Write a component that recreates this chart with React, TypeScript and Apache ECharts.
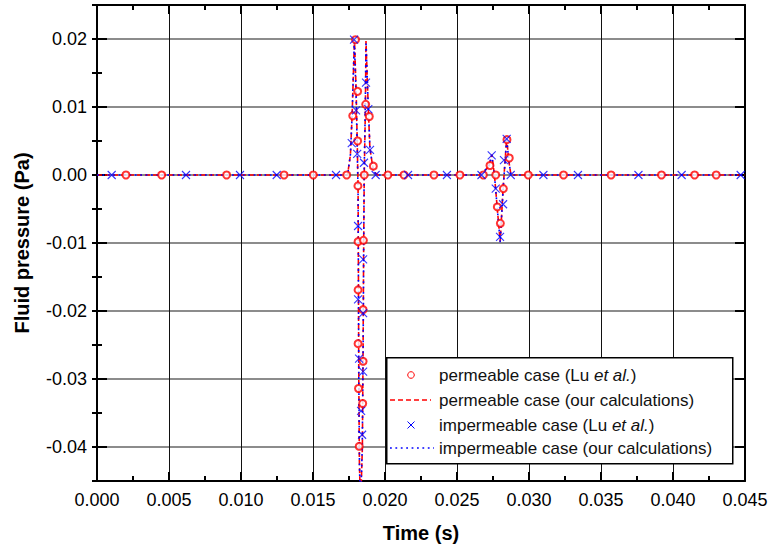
import React, { useEffect, useRef } from 'react';
import * as echarts from 'echarts';

// [time (s), fluid pressure (Pa)]
const permeableLu: number[][] = [
  [0.00201, 0], [0.00449, 0], [0.009, 0], [0.01299, 0], [0.01502, 0], [0.01734, 0],
  [0.01776, 0.0087], [0.01795, 0.0199], [0.0181, 0.0123], [0.0181, 0.005], [0.01812, -0.0016],
  [0.01813, -0.0098], [0.01813, -0.0169], [0.01813, -0.0248], [0.01816, -0.0314], [0.01821, -0.0399],
  [0.01845, -0.0336], [0.01848, -0.0274], [0.01848, -0.0198], [0.0185, -0.0096], [0.01856, 0],
  [0.01866, 0.0104], [0.01891, 0.0086], [0.01919, 0.0013],
  [0.0202, 0], [0.02132, 0], [0.0234, 0], [0.0252, 0], [0.02683, 0],
  [0.02729, 0.0014], [0.02769, 0], [0.0278, -0.0047], [0.02801, -0.0071], [0.02822, -0.002],
  [0.02847, 0.0052], [0.02863, 0.0025],
  [0.02995, 0], [0.0324, 0], [0.0357, 0], [0.0392, 0], [0.0415, 0], [0.043, 0],
];

const impermeableLu: number[][] = [
  [0.00102, 0], [0.00618, 0], [0.00993, 0], [0.01248, 0], [0.0166, 0],
  [0.01769, 0.0047], [0.01785, 0.0199], [0.01799, 0.0095], [0.01807, 0.0031], [0.01813, -0.0075],
  [0.01813, -0.0183], [0.0182, -0.027], [0.01834, -0.0347], [0.01841, -0.0382], [0.01848, -0.0289],
  [0.01848, -0.0203], [0.01848, -0.0124], [0.01854, 0.0018], [0.01868, 0.0136], [0.01884, 0.0097],
  [0.01896, 0.0037], [0.01935, 0],
  [0.0216, 0], [0.0243, 0], [0.0267, 0],
  [0.02741, 0.0029], [0.02769, -0.002], [0.02799, -0.0091], [0.0282, -0.0043], [0.02826, 0.0022],
  [0.02845, 0.0053], [0.02873, 0],
  [0.031, 0], [0.0334, 0], [0.0376, 0], [0.0406, 0], [0.0447, 0],
];

const permeableCalc: number[][] = [
  [0, 0], [0.0174, 0], [0.0176, 0.003], [0.01772, 0.009], [0.01788, 0.02], [0.018, 0.012],
  [0.01808, 0.004], [0.01813, -0.002], [0.01815, -0.012], [0.01818, -0.03], [0.01822, -0.042],
  [0.0183, -0.049], [0.01843, -0.04], [0.01848, -0.025], [0.01852, -0.01], [0.01856, 0],
  [0.01864, 0.01], [0.01868, 0.0197], [0.01882, 0.011], [0.01895, 0.004], [0.0192, 0.0005],
  [0.0195, 0], [0.0266, 0], [0.0272, 0.0012], [0.02742, 0.003], [0.0276, 0], [0.0278, -0.005],
  [0.028, -0.0098], [0.0282, -0.002], [0.02845, 0.0054], [0.0286, 0.002], [0.02875, 0], [0.045, 0],
];

const impermeableCalc: number[][] = [
  [0, 0], [0.0174, 0], [0.0176, 0.003], [0.01772, 0.009], [0.01787, 0.0199], [0.018, 0.011],
  [0.01808, 0.003], [0.01813, -0.003], [0.01815, -0.013], [0.01818, -0.03], [0.01823, -0.043],
  [0.0183, -0.049], [0.01842, -0.04], [0.01848, -0.026], [0.01852, -0.011], [0.01855, 0],
  [0.01863, 0.01], [0.01868, 0.0196], [0.01882, 0.011], [0.01896, 0.0038], [0.0192, 0.0005],
  [0.0195, 0], [0.0266, 0], [0.0272, 0.0012], [0.02741, 0.0029], [0.0276, 0], [0.0278, -0.005],
  [0.028, -0.0099], [0.0282, -0.0022], [0.02845, 0.0054], [0.0286, 0.002], [0.02875, 0], [0.045, 0],
];

const xMin = 0;
const xMax = 0.045;
const xStep = 0.005;
const yMin = -0.045;
const yMax = 0.025;
const yMinorStep = 0.005;

const legendLabels = [
  'permeable case (Lu {i|et al.})',
  'permeable case (our calculations)',
  'impermeable case (Lu {i|et al.})',
  'impermeable case (our calculations)',
];

const FONT = '"Liberation Sans", Arial, Helvetica, sans-serif';
const RED = '#ff0000';
const BLUE = '#0000ff';
const CROSS = 'path://M0,0L10,10M10,0L0,10';

export default function App() {
  const ref = useRef<HTMLDivElement>(null);
  useEffect(() => {
    if (!ref.current) return;
    const chart = echarts.init(ref.current, null, { renderer: 'svg' });
    const axisLine = { show: true, onZero: false, lineStyle: { color: '#000', width: 2 } };
    const baseX = {
      type: 'value' as const, min: xMin, max: xMax, interval: xStep,
      axisLine, splitLine: { show: false },
      axisTick: { show: true, inside: true, length: 9, lineStyle: { color: '#000', width: 2 } },
      minorTick: { show: true, splitNumber: 2, length: 5, lineStyle: { color: '#000', width: 2 } },
    };
    const majorY = {
      type: 'value' as const, min: yMin, max: yMax,
      axisLine, splitLine: { show: false },
      axisTick: { show: true, inside: true, length: 10, lineStyle: { color: '#000', width: 2 } },
    };
    const minorY = {
      type: 'value' as const, min: yMin, max: yMax, interval: yMinorStep,
      axisLine: { show: false }, splitLine: { show: false }, axisLabel: { show: false },
      axisTick: { show: true, inside: true, length: 5, lineStyle: { color: '#000', width: 2 } },
    };
    const rowY = [375, 400, 425, 448];
    const textStyle = {
      fontFamily: FONT, fontSize: 17, fill: '#111',
      rich: { i: { fontStyle: 'italic', fontFamily: FONT, fontSize: 17, fill: '#111' } },
    };
    const graphic: any[] = [
      { type: 'rect', left: 386, top: 357, z: 100, shape: { width: 346, height: 106 },
        style: { fill: '#fff', stroke: '#000', lineWidth: 1.5 } },
      { type: 'circle', z: 101, shape: { cx: 411, cy: rowY[0], r: 3.3 },
        style: { fill: 'none', stroke: RED, lineWidth: 1 } },
      { type: 'line', z: 101, shape: { x1: 390, y1: rowY[1], x2: 431, y2: rowY[1] },
        style: { stroke: RED, lineWidth: 1.5, lineDash: [5, 3] } },
      { type: 'line', z: 101, shape: { x1: 407.5, y1: rowY[2] - 3.5, x2: 414.5, y2: rowY[2] + 3.5 },
        style: { stroke: BLUE, lineWidth: 1 } },
      { type: 'line', z: 101, shape: { x1: 414.5, y1: rowY[2] - 3.5, x2: 407.5, y2: rowY[2] + 3.5 },
        style: { stroke: BLUE, lineWidth: 1 } },
      { type: 'line', z: 101, shape: { x1: 390, y1: rowY[3], x2: 434, y2: rowY[3] },
        style: { stroke: BLUE, lineWidth: 1.5, lineDash: [1.8, 3.6] } },
      ...legendLabels.map((t, i) => ({
        type: 'text', z: 101, x: 439, y: rowY[i],
        style: { ...textStyle, text: t, verticalAlign: 'middle', align: 'left' },
      })),
    ];
    chart.setOption({
      animation: false,
      backgroundColor: '#fff',
      grid: { left: 97, right: 27, top: 5, bottom: 73, containLabel: false },
      xAxis: [
        {
          ...baseX, position: 'bottom',
          name: 'Time (s)', nameLocation: 'middle', nameGap: 42,
          nameTextStyle: { fontFamily: FONT, fontSize: 20, fontWeight: 'bold', color: '#000' },
          axisLabel: { fontFamily: FONT, fontSize: 18, color: '#000', margin: 10,
            formatter: (v: number) => v.toFixed(3) },
          splitLine: { show: true, lineStyle: { color: '#111', width: 1 } },
        },
        { ...baseX, position: 'top', axisLabel: { show: false } },
      ],
      yAxis: [
        {
          ...majorY, position: 'left',
          name: 'Fluid pressure (Pa)', nameLocation: 'middle', nameGap: 65,
          nameTextStyle: { fontFamily: FONT, fontSize: 20, fontWeight: 'bold', color: '#000' },
          axisLabel: { fontFamily: FONT, fontSize: 18, color: '#000', margin: 10,
            showMinLabel: false, showMaxLabel: false,
            formatter: (v: number) => v.toFixed(2) },
          splitLine: { show: true, lineStyle: { color: '#666', width: 1.5 } },
        },
        { ...minorY, position: 'left' },
        { ...majorY, position: 'right', axisLabel: { show: false } },
        { ...minorY, position: 'right' },
      ],
      series: [
        {
          type: 'line', name: 'permeable case (our calculations)', data: permeableCalc,
          showSymbol: false, symbol: 'none', clip: true,
          lineStyle: { color: RED, width: 1.6, type: [5, 3] }, z: 3,
        },
        {
          type: 'line', name: 'impermeable case (our calculations)', data: impermeableCalc,
          showSymbol: false, symbol: 'none', clip: true,
          lineStyle: { color: BLUE, width: 1.6, type: [1.8, 3.6] }, z: 4,
        },
        {
          type: 'scatter', name: 'permeable case (Lu et al.)', data: permeableLu,
          symbol: 'emptyCircle', symbolSize: 7,
          itemStyle: { color: RED, borderColor: RED, borderWidth: 1 }, z: 5,
        },
        {
          type: 'scatter', name: 'impermeable case (Lu et al.)', data: impermeableLu,
          symbol: CROSS, symbolSize: 8,
          itemStyle: { color: 'none', borderColor: BLUE, borderWidth: 1.1 }, z: 6,
        },
      ],
      graphic,
    });
    return () => chart.dispose();
  }, []);
  return (
    <div
      ref={ref}
      style={{ position: 'fixed', left: 0, top: 0, width: 772, height: 554, background: '#fff' }}
    />
  );
}
